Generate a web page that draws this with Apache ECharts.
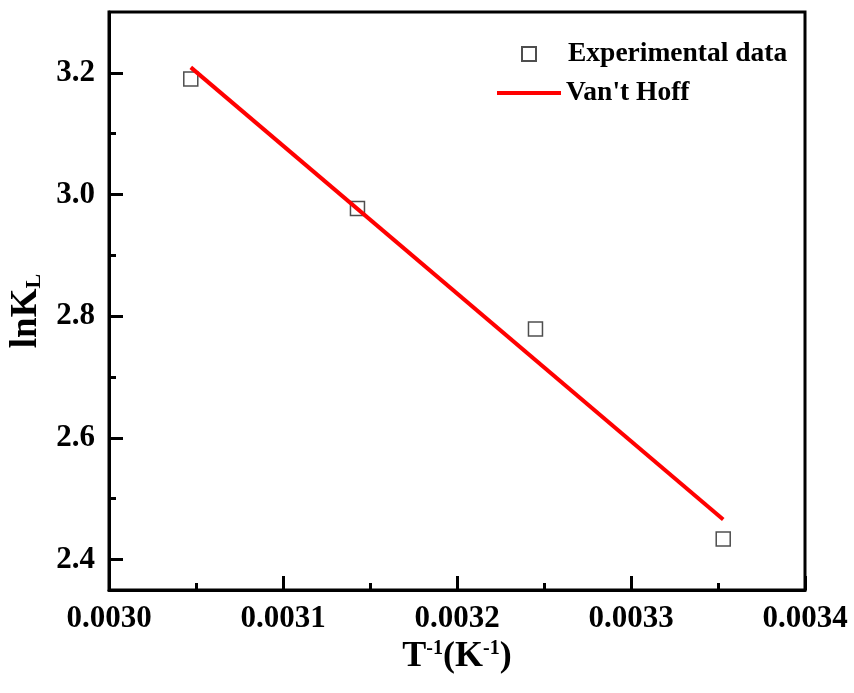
<!DOCTYPE html>
<html>
<head>
<meta charset="utf-8">
<script src="https://cdn.jsdelivr.net/npm/echarts@6/dist/echarts.min.js"></script>
<style>
html,body{margin:0;padding:0;background:#fff;}
#chart{width:854px;height:693px;}
</style>
</head>
<body>
<div id="chart"></div>
<script>
// Data
const xExp = [0.003047, 0.0031428, 0.0032451, 0.003353];
const yExp = [3.190, 2.977, 2.779, 2.434];
const xFit = [0.003047, 0.003353];
const yFit = [3.209, 2.466];
const yMajorTicks = [2.4, 2.6, 2.8, 3.0, 3.2];
const yMinorTicks = [2.5, 2.7, 2.9, 3.1];
const seriesNames = ['Experimental data', "Van't Hoff"];

const FONT = '"Liberation Serif", "Times New Roman", serif';

const expData = xExp.map((x, i) => [x, yExp[i]]);
const fitData = xFit.map((x, i) => [x, yFit[i]]);

const chart = echarts.init(document.getElementById('chart'), null, {renderer: 'canvas'});
chart.setOption({
  animation: false,
  backgroundColor: '#fff',
  grid: {
    left: 109, right: 49, top: 12, bottom: 103,
    show: true, borderColor: '#000', borderWidth: 3, backgroundColor: 'transparent'
  },
  legend: [
    {
      data: [seriesNames[0]],
      left: 521, top: 40, padding: 0,
      itemWidth: 14, itemHeight: 14,
      textStyle: {fontFamily: FONT, fontWeight: 'bold', fontSize: 27.5, color: '#000', padding: [0, 0, 0, 27]}
    },
    {
      data: [{name: seriesNames[1], icon: 'rect'}],
      left: 497, top: 79, padding: 0,
      itemWidth: 64, itemHeight: 4,
      textStyle: {fontFamily: FONT, fontWeight: 'bold', fontSize: 27.5, color: '#000'}
    }
  ],
  xAxis: {
    type: 'value',
    min: 0.0030, max: 0.0034, interval: 0.0001,
    name: '{b|T}{s|-1}{b|(K}{s|-1}{b|)}',
    nameLocation: 'middle',
    nameGap: 45,
    nameTextStyle: {
      rich: {
        b: {fontFamily: FONT, fontWeight: 'bold', fontSize: 36, color: '#000', verticalAlign: 'bottom'},
        s: {fontFamily: FONT, fontWeight: 'bold', fontSize: 20, color: '#000', verticalAlign: 'top', padding: [0, 0, 16, 0]}
      }
    },
    axisLine: {show: true, onZero: false, lineStyle: {color: '#000', width: 3}},
    axisTick: {show: true, inside: true, length: 14, lineStyle: {color: '#000', width: 3}},
    minorTick: {show: true, splitNumber: 2, length: 7, lineStyle: {color: '#000', width: 3}},
    splitLine: {show: false},
    minorSplitLine: {show: false},
    axisLabel: {
      margin: 13,
      fontFamily: FONT, fontWeight: 'bold', fontSize: 31, color: '#000',
      formatter: v => v.toFixed(4)
    }
  },
  yAxis: [
    {
      type: 'value',
      min: 2.35, max: 3.3,
      name: '{b|lnK}{s|L}',
      nameLocation: 'middle',
      nameGap: 62,
      nameRotate: 90,
      nameTextStyle: {
        padding: [0, 20, 0, 0],
        rich: {
          b: {fontFamily: FONT, fontWeight: 'bold', fontSize: 37, color: '#000', verticalAlign: 'top'},
          s: {fontFamily: FONT, fontWeight: 'bold', fontSize: 22, color: '#000', verticalAlign: 'bottom', padding: [14, 0, 0, 0]}
        }
      },
      axisLine: {show: true, onZero: false, lineStyle: {color: '#000', width: 3}},
      axisTick: {show: true, inside: true, length: 14, customValues: yMajorTicks, lineStyle: {color: '#000', width: 3}},
      splitLine: {show: false},
      axisLabel: {
        margin: 14,
        customValues: yMajorTicks,
        fontFamily: FONT, fontWeight: 'bold', fontSize: 31, color: '#000',
        formatter: v => v.toFixed(1)
      }
    },
    {
      type: 'value',
      min: 2.35, max: 3.3,
      position: 'left',
      axisLine: {show: false},
      axisTick: {show: true, inside: true, length: 7, customValues: yMinorTicks, lineStyle: {color: '#000', width: 3}},
      axisLabel: {show: false, customValues: yMinorTicks},
      splitLine: {show: false}
    }
  ],
  series: [
    {
      name: seriesNames[0],
      type: 'scatter',
      data: expData,
      symbol: 'rect',
      symbolSize: 14,
      itemStyle: {color: '#fff', borderColor: '#222', borderWidth: 1.5},
      z: 3
    },
    {
      name: seriesNames[1],
      type: 'line',
      data: fitData,
      symbol: 'none',
      lineStyle: {color: '#ff0000', width: 4},
      itemStyle: {color: '#ff0000'},
      z: 4
    }
  ]
});
</script>
</body>
</html>
